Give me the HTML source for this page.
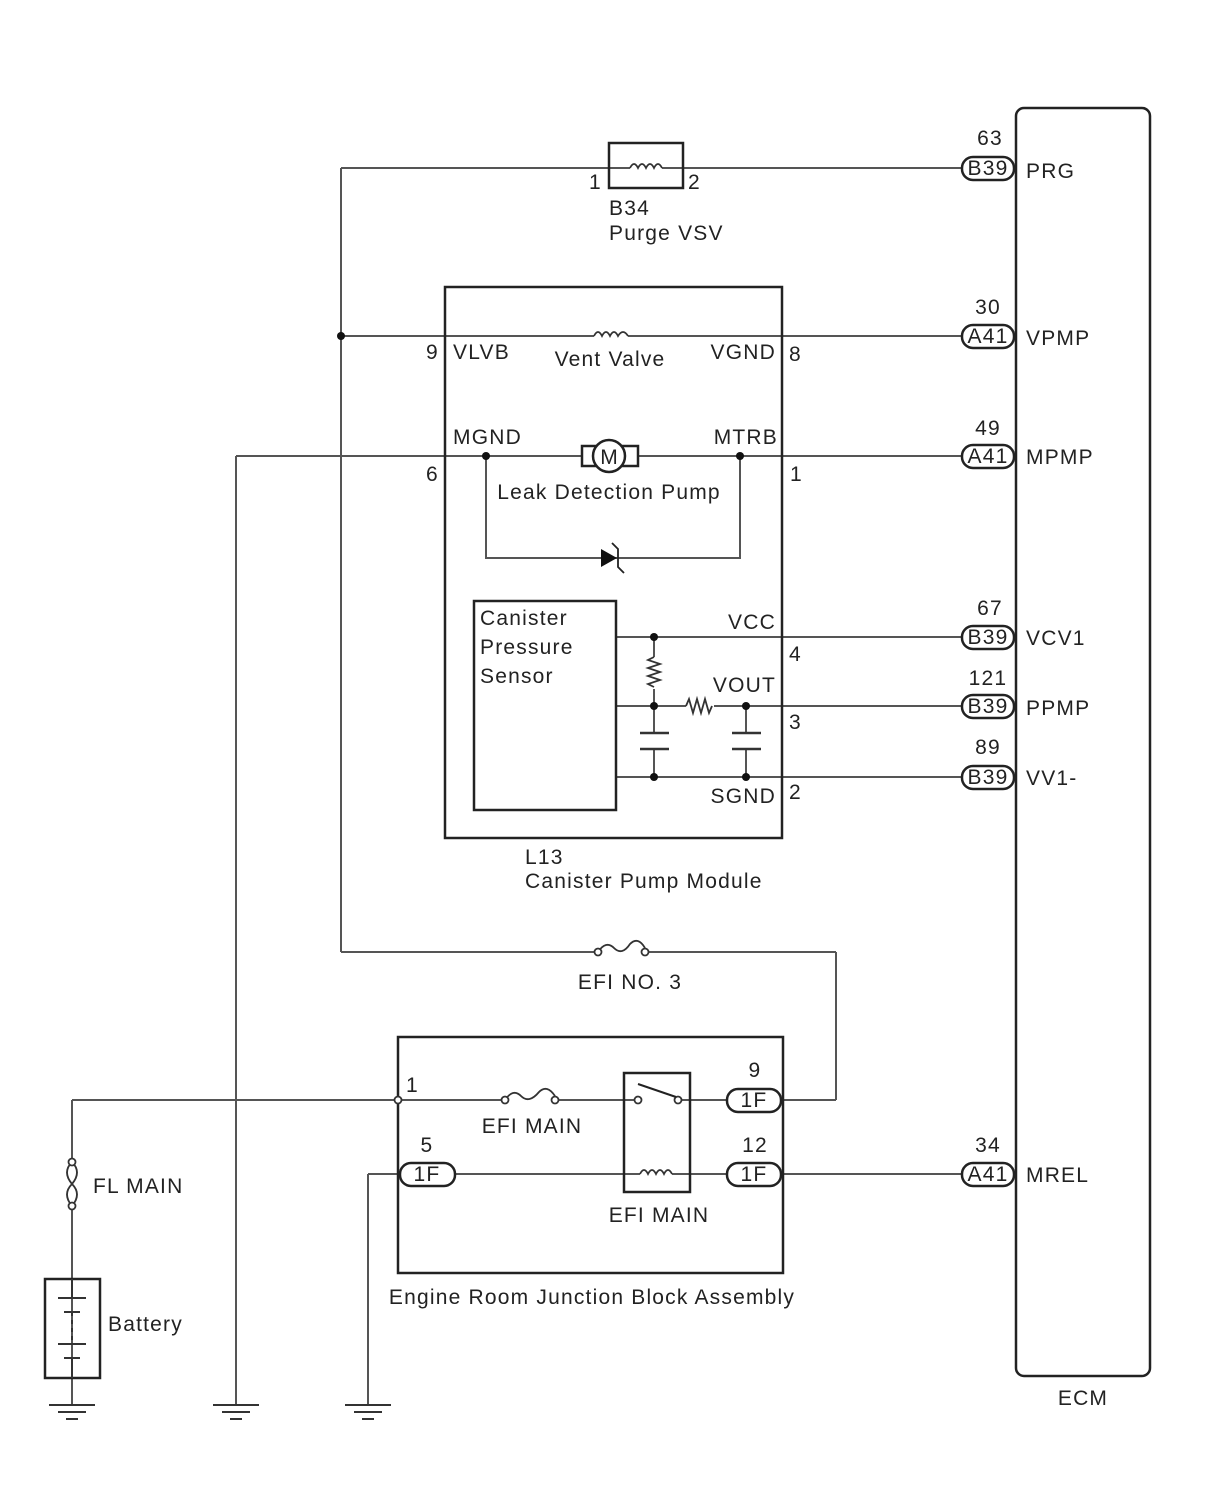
<!DOCTYPE html>
<html><head><meta charset="utf-8"><style>
html,body{margin:0;padding:0;background:#fff;}
svg{display:block;}
text{font-family:"Liberation Sans",sans-serif;font-size:21px;fill:#222;letter-spacing:1.2px;}
</style></head><body>
<svg width="1210" height="1498" viewBox="0 0 1210 1498" xmlns="http://www.w3.org/2000/svg">
<defs>
<g id="gnd" stroke="#333" stroke-width="2"><line x1="-23" y1="0" x2="23" y2="0"/><line x1="-14" y1="7" x2="14" y2="7"/><line x1="-6" y1="14" x2="6" y2="14"/></g>
</defs>
<g fill="none" stroke="#555" stroke-width="2">
<line x1="341" y1="168" x2="609" y2="168"/><line x1="683" y1="168" x2="962" y2="168"/>
<line x1="609" y1="168" x2="630" y2="168"/><line x1="662" y1="168" x2="683" y2="168"/>
<line x1="341" y1="168" x2="341" y2="952"/>
<line x1="341" y1="952" x2="598" y2="952"/><line x1="645" y1="952" x2="836" y2="952"/>
<line x1="836" y1="952" x2="836" y2="1100"/><line x1="781" y1="1100" x2="836" y2="1100"/>
<line x1="341" y1="336" x2="594" y2="336"/><line x1="628" y1="336" x2="962" y2="336"/>
<line x1="236" y1="456" x2="582" y2="456"/><line x1="638" y1="456" x2="962" y2="456"/>
<line x1="236" y1="456" x2="236" y2="1405"/>
<polyline points="486,456 486,558 740,558 740,456"/>
<line x1="616" y1="637" x2="962" y2="637"/>
<line x1="616" y1="706" x2="686" y2="706"/><line x1="714" y1="706" x2="962" y2="706"/>
<line x1="616" y1="777" x2="962" y2="777"/>
<line x1="654" y1="637" x2="654" y2="657"/><line x1="654" y1="689" x2="654" y2="733"/><line x1="654" y1="749" x2="654" y2="777"/>
<line x1="746" y1="706" x2="746" y2="733"/><line x1="746" y1="749" x2="746" y2="777"/>
<line x1="72" y1="1100" x2="505" y2="1100"/><line x1="555" y1="1100" x2="634" y2="1100"/><line x1="682" y1="1100" x2="727" y2="1100"/>
<line x1="368" y1="1174" x2="400" y2="1174"/><line x1="368" y1="1174" x2="368" y2="1405"/>
<line x1="455" y1="1174" x2="640" y2="1174"/><line x1="672" y1="1174" x2="727" y2="1174"/>
<line x1="781" y1="1174" x2="962" y2="1174"/>
<line x1="72" y1="1100" x2="72" y2="1158"/><line x1="72" y1="1210" x2="72" y2="1405"/>
</g>
<g fill="none" stroke="#222" stroke-width="2.5">
<rect x="1016" y="108" width="134" height="1268" rx="8"/>
<rect x="609" y="143" width="74" height="45"/>
<rect x="445" y="287" width="337" height="551"/>
<rect x="474" y="601" width="142" height="209"/>
<rect x="398" y="1037" width="385" height="236"/>
<rect x="624" y="1073" width="66" height="119"/>
<rect x="45" y="1279" width="55" height="99"/>
</g>
<g stroke="#222" stroke-width="2.5" fill="#fff">
<rect x="962" y="157" width="52" height="23" rx="11"/>
<rect x="962" y="325" width="52" height="23" rx="11"/>
<rect x="962" y="445" width="52" height="23" rx="11"/>
<rect x="962" y="626" width="52" height="23" rx="11"/>
<rect x="962" y="695" width="52" height="23" rx="11"/>
<rect x="962" y="766" width="52" height="23" rx="11"/>
<rect x="962" y="1163" width="52" height="23" rx="11"/>
<rect x="727" y="1089" width="54" height="23" rx="11"/>
<rect x="727" y="1163" width="54" height="23" rx="11"/>
<rect x="400" y="1163" width="55" height="23" rx="11"/>
</g>
<g style="letter-spacing:0">
<text x="988" y="175" text-anchor="middle">B39</text>
<text x="988" y="343" text-anchor="middle">A41</text>
<text x="988" y="463" text-anchor="middle">A41</text>
<text x="988" y="644" text-anchor="middle">B39</text>
<text x="988" y="713" text-anchor="middle">B39</text>
<text x="988" y="784" text-anchor="middle">B39</text>
<text x="988" y="1181" text-anchor="middle">A41</text>
<text x="754" y="1107" text-anchor="middle">1F</text>
<text x="754" y="1181" text-anchor="middle">1F</text>
<text x="427" y="1181" text-anchor="middle">1F</text>
</g>
<g fill="none" stroke="#333" stroke-width="1.8">
<path d="M630,168 q4,-8 8,0 q4,-8 8,0 q4,-8 8,0 q4,-8 8,0"/>
<path d="M594,336 q4,-8 8,0 q4,-8 8,0 q4,-8 8,0 q5,-8 10,0"/>
<path d="M640,1174 q4,-8 8,0 q4,-8 8,0 q4,-8 8,0 q4,-8 8,0"/>
<path d="M686,706 l3,-7 l4,14 l4,-14 l4,14 l4,-14 l4,14 l3,-7"/>
<path d="M654,657 l-6,3 l12,4 l-12,4 l12,4 l-12,4 l12,4 l-12,4 l6,3"/>
<path d="M598,952 q8,-12 16,-4 q8,8 16,-4 q8,-8 15,4"/>
<path d="M505,1100 q8,-12 16,-4 q8,8 18,-4 q8,-8 16,4"/>
<path d="M72,1162 q-10,10 0,22 q10,10 0,22 M72,1162 q10,10 0,22 q-10,10 0,22"/>
</g>
<g fill="#fff" stroke="#333" stroke-width="1.8">
<circle cx="598" cy="952" r="3.5"/><circle cx="645" cy="952" r="3.5"/>
<circle cx="505" cy="1100" r="3.5"/><circle cx="555" cy="1100" r="3.5"/>
<circle cx="398" cy="1100" r="3.5"/>
<circle cx="638" cy="1100" r="3.5"/><circle cx="678" cy="1100" r="3.5"/>
<circle cx="72" cy="1162" r="3.5"/><circle cx="72" cy="1206" r="3.5"/>
</g>
<line x1="638" y1="1084" x2="676" y2="1097" stroke="#222" stroke-width="2"/>
<g stroke="#222" stroke-width="2.5" fill="#fff">
<rect x="582" y="446" width="56" height="20"/>
<circle cx="609" cy="456" r="16"/>
</g>
<text x="609" y="464" text-anchor="middle" style="letter-spacing:0">M</text>
<polygon points="601,549 601,567 617,558" fill="#111"/>
<path d="M612,543 l6,6 l0,18 l6,6" fill="none" stroke="#222" stroke-width="1.8"/>
<g stroke="#333" stroke-width="2.5">
<line x1="640" y1="733" x2="669" y2="733"/><line x1="640" y1="749" x2="669" y2="749"/>
<line x1="732" y1="733" x2="761" y2="733"/><line x1="732" y1="749" x2="761" y2="749"/>
</g>
<g stroke="#333" stroke-width="2">
<line x1="72" y1="1279" x2="72" y2="1298"/><line x1="58" y1="1298" x2="86" y2="1298"/>
<line x1="64" y1="1312" x2="80" y2="1312"/><line x1="72" y1="1312" x2="72" y2="1340" stroke-dasharray="4,4"/>
<line x1="58" y1="1344" x2="86" y2="1344"/><line x1="64" y1="1358" x2="80" y2="1358"/>
<line x1="72" y1="1358" x2="72" y2="1378"/>
</g>
<g fill="#111">
<circle cx="341" cy="336" r="4"/><circle cx="486" cy="456" r="4"/><circle cx="740" cy="456" r="4"/>
<circle cx="654" cy="637" r="4"/><circle cx="654" cy="706" r="4"/><circle cx="746" cy="706" r="4"/>
<circle cx="654" cy="777" r="4"/><circle cx="746" cy="777" r="4"/>
</g>
<use href="#gnd" x="72" y="1405"/><use href="#gnd" x="236" y="1405"/><use href="#gnd" x="368" y="1405"/>
<text x="990" y="145" text-anchor="middle">63</text><text x="1026" y="178">PRG</text>
<text x="988" y="314" text-anchor="middle">30</text><text x="1026" y="345">VPMP</text>
<text x="988" y="435" text-anchor="middle">49</text><text x="1026" y="464">MPMP</text>
<text x="990" y="615" text-anchor="middle">67</text><text x="1026" y="645">VCV1</text>
<text x="988" y="685" text-anchor="middle">121</text><text x="1026" y="715">PPMP</text>
<text x="988" y="754" text-anchor="middle">89</text><text x="1026" y="785">VV1-</text>
<text x="988" y="1152" text-anchor="middle">34</text><text x="1026" y="1182">MREL</text>
<text x="1083" y="1405" text-anchor="middle">ECM</text>
<text x="589" y="189">1</text><text x="688" y="189">2</text>
<text x="609" y="215">B34</text><text x="609" y="240">Purge VSV</text>
<text x="426" y="359">9</text><text x="453" y="359">VLVB</text>
<text x="610" y="366" text-anchor="middle">Vent Valve</text>
<text x="776" y="359" text-anchor="end">VGND</text><text x="789" y="361">8</text>
<text x="453" y="444">MGND</text><text x="778" y="444" text-anchor="end">MTRB</text>
<text x="426" y="481">6</text><text x="790" y="481">1</text>
<text x="609" y="499" text-anchor="middle">Leak Detection Pump</text>
<text x="480" y="625">Canister</text><text x="480" y="654">Pressure</text><text x="480" y="683">Sensor</text>
<text x="776" y="629" text-anchor="end">VCC</text><text x="789" y="661">4</text>
<text x="776" y="692" text-anchor="end">VOUT</text><text x="789" y="729">3</text>
<text x="776" y="803" text-anchor="end">SGND</text><text x="789" y="799">2</text>
<text x="525" y="864">L13</text><text x="525" y="888">Canister Pump Module</text>
<text x="630" y="989" text-anchor="middle">EFI NO. 3</text>
<text x="406" y="1092">1</text><text x="755" y="1077" text-anchor="middle">9</text>
<text x="427" y="1152" text-anchor="middle">5</text><text x="755" y="1152" text-anchor="middle">12</text>
<text x="532" y="1133" text-anchor="middle">EFI MAIN</text>
<text x="659" y="1222" text-anchor="middle">EFI MAIN</text>
<text x="592" y="1304" text-anchor="middle">Engine Room Junction Block Assembly</text>
<text x="93" y="1193">FL MAIN</text>
<text x="108" y="1331">Battery</text>
</svg>
</body></html>
